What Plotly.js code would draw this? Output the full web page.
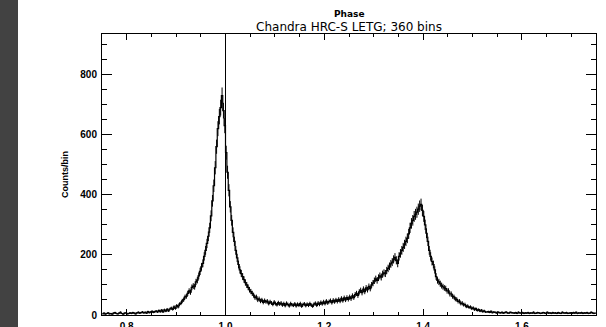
<!DOCTYPE html>
<html>
<head>
<meta charset="utf-8">
<script src="https://cdn.plot.ly/plotly-3.0.1.min.js"></script>
<style>
html,body{margin:0;padding:0;background:#fff;}
#wrap{position:relative;width:606px;height:327px;overflow:hidden;}
#strip{position:absolute;left:0;top:0;width:18px;height:327px;background:#424242;z-index:5;}
#chart{position:absolute;left:0;top:0;width:606px;height:327px;}
</style>
</head>
<body>
<div id="wrap"><div id="chart"></div><div id="strip"></div></div>
<script>
// Binning grid: 360 bins per phase cycle, starting at phase 0.75
const phaseStart = 0.75;
const nBinsPerCycle = 360;
// Counts per bin
const counts = [
 4,6,3,5,7,4,5,3,6,8,
 5,4,6,9,5,3,6,7,4,5,
 7,5,8,6,4,7,9,6,8,10,
 7,9,6,11,8,10,12,9,11,13,
 10,15,11,16,10,17,13,19,14,20,
 23,19,27,22,31,27,36,39,47,51,
 60,62,72,80,76,92,96,94,110,116,
 130,145,160,172,195,215,238,262,290,330,
 380,430,490,560,620,660,690,730,680,630,
 540,475,415,360,315,275,245,215,190,168,
 150,138,128,118,108,100,92,84,78,72,
 66,58,60,50,54,46,50,42,48,44,
 46,38,44,40,35,43,38,34,41,36,
 40,33,38,31,39,35,30,38,34,32,
 37,30,36,32,38,29,35,37,31,36,
 32,38,33,29,36,39,32,40,35,42,
 37,44,38,46,40,45,48,41,49,44,
 50,45,52,46,55,48,57,50,58,52,
 60,54,64,58,68,72,65,77,82,74,
 86,78,90,84,95,88,100,106,114,120,
 115,124,130,126,136,140,138,148,155,162,
 170,176,185,192,182,172,195,205,215,225,
 235,245,255,270,290,305,315,328,335,342,
 352,362,368,348,328,300,272,245,215,195,
 178,168,150,128,115,110,104,98,94,90,
 88,80,80,70,70,62,60,53,52,45,
 46,38,40,34,35,28,30,25,27,21,
 24,18,21,15,18,13,16,11,14,10,
 10,11,9,12,8,10,9,7,10,8,
 7,9,6,8,10,7,6,9,8,7,
 6,8,5,9,7,6,8,5,7,6,
 8,5,7,6,9,5,6,8,7,5,
 6,8,7,5,9,6,7,5,8,6,
 7,5,8,6,5,9,7,6,8,5,
 6,7,5,8,6,9,5,7,6,8,
 5,7,6,8,5,6,9,7,5,6
];
const phases = counts.map((c, i) => phaseStart + (i + 0.5) / nBinsPerCycle);
const refPhase = 1.0;
const xTickVals = [0.8, 1.0, 1.2, 1.4, 1.6];
const xTickText = ["0.8", "1.0", "1.2", "1.4", "1.6"];
const yTickVals = [0, 200, 400, 600, 800];
const yTickText = ["0", "200", "400", "600", "800"];
const titleText = "Chandra HRC-S LETG; 360 bins";
const topLabel = "Phase";
const yLabel = "Counts/bin";

const font = "Liberation Sans, Arial, sans-serif";
const tfont = "DejaVu Sans, sans-serif";

const trace = {
  x: phases, y: counts, type: 'scatter', mode: 'lines',
  line: {color: '#000', width: 1.2, shape: 'hvh'},
  error_y: {type: 'sqrt', visible: true, color: '#000', thickness: 1, width: 0},
  hoverinfo: 'skip'
};

const layout = {
  width: 606, height: 327,
  margin: {l: 102, r: 10, t: 34, b: 12},
  paper_bgcolor: '#fff', plot_bgcolor: '#fff',
  showlegend: false,
  font: {family: font, color: '#000', size: 10},
  title: {
    text: titleText,
    font: {family: tfont, size: 12, color: '#000'},
    x: 0.5, xref: 'paper', xanchor: 'center',
    y: 1 - 23/327, yref: 'container', yanchor: 'top'
  },
  annotations: [{
    text: topLabel, xref: 'paper', yref: 'paper', x: 0.5, y: 1 + 20/281,
    xanchor: 'center', yanchor: 'middle', showarrow: false,
    font: {family: tfont, size: 9, color: '#000', weight: 'bold'}
  }],
  xaxis: {
    range: [0.75, 1.75], tickmode: 'array', tickvals: xTickVals, ticktext: xTickText,
    ticks: 'inside', ticklen: 6, tickwidth: 1, tickcolor: '#000',
    minor: {ticks: 'inside', ticklen: 3, dtick: 0.05, tick0: 0.75, tickcolor: '#000', showgrid: false},
    showline: true, linecolor: '#000', linewidth: 1, mirror: 'ticks',
    showgrid: false, zeroline: false,
    tickfont: {family: font, size: 10, color: '#000', weight: 'bold'},
    ticklabelstandoff: 2
  },
  yaxis: {
    range: [0, 935], tickmode: 'array', tickvals: yTickVals, ticktext: yTickText,
    ticks: 'inside', ticklen: 10, tickwidth: 1, tickcolor: '#000',
    minor: {ticks: 'inside', ticklen: 5, dtick: 50, tick0: 0, tickcolor: '#000', showgrid: false},
    showline: true, linecolor: '#000', linewidth: 1, mirror: 'ticks',
    showgrid: false, zeroline: false,
    tickfont: {family: font, size: 10, color: '#000', weight: 'bold'},
    ticklabelstandoff: 2,
    title: {text: yLabel, font: {family: font, size: 9, color: '#000', weight: 'bold'}, standoff: 10}
  },
  shapes: [{
    type: 'line', xref: 'x', yref: 'paper', x0: refPhase, x1: refPhase, y0: 0, y1: 1,
    line: {color: '#000', width: 1}
  }]
};

Plotly.newPlot('chart', [trace], layout, {staticPlot: true, displayModeBar: false});
</script>
</body>
</html>
